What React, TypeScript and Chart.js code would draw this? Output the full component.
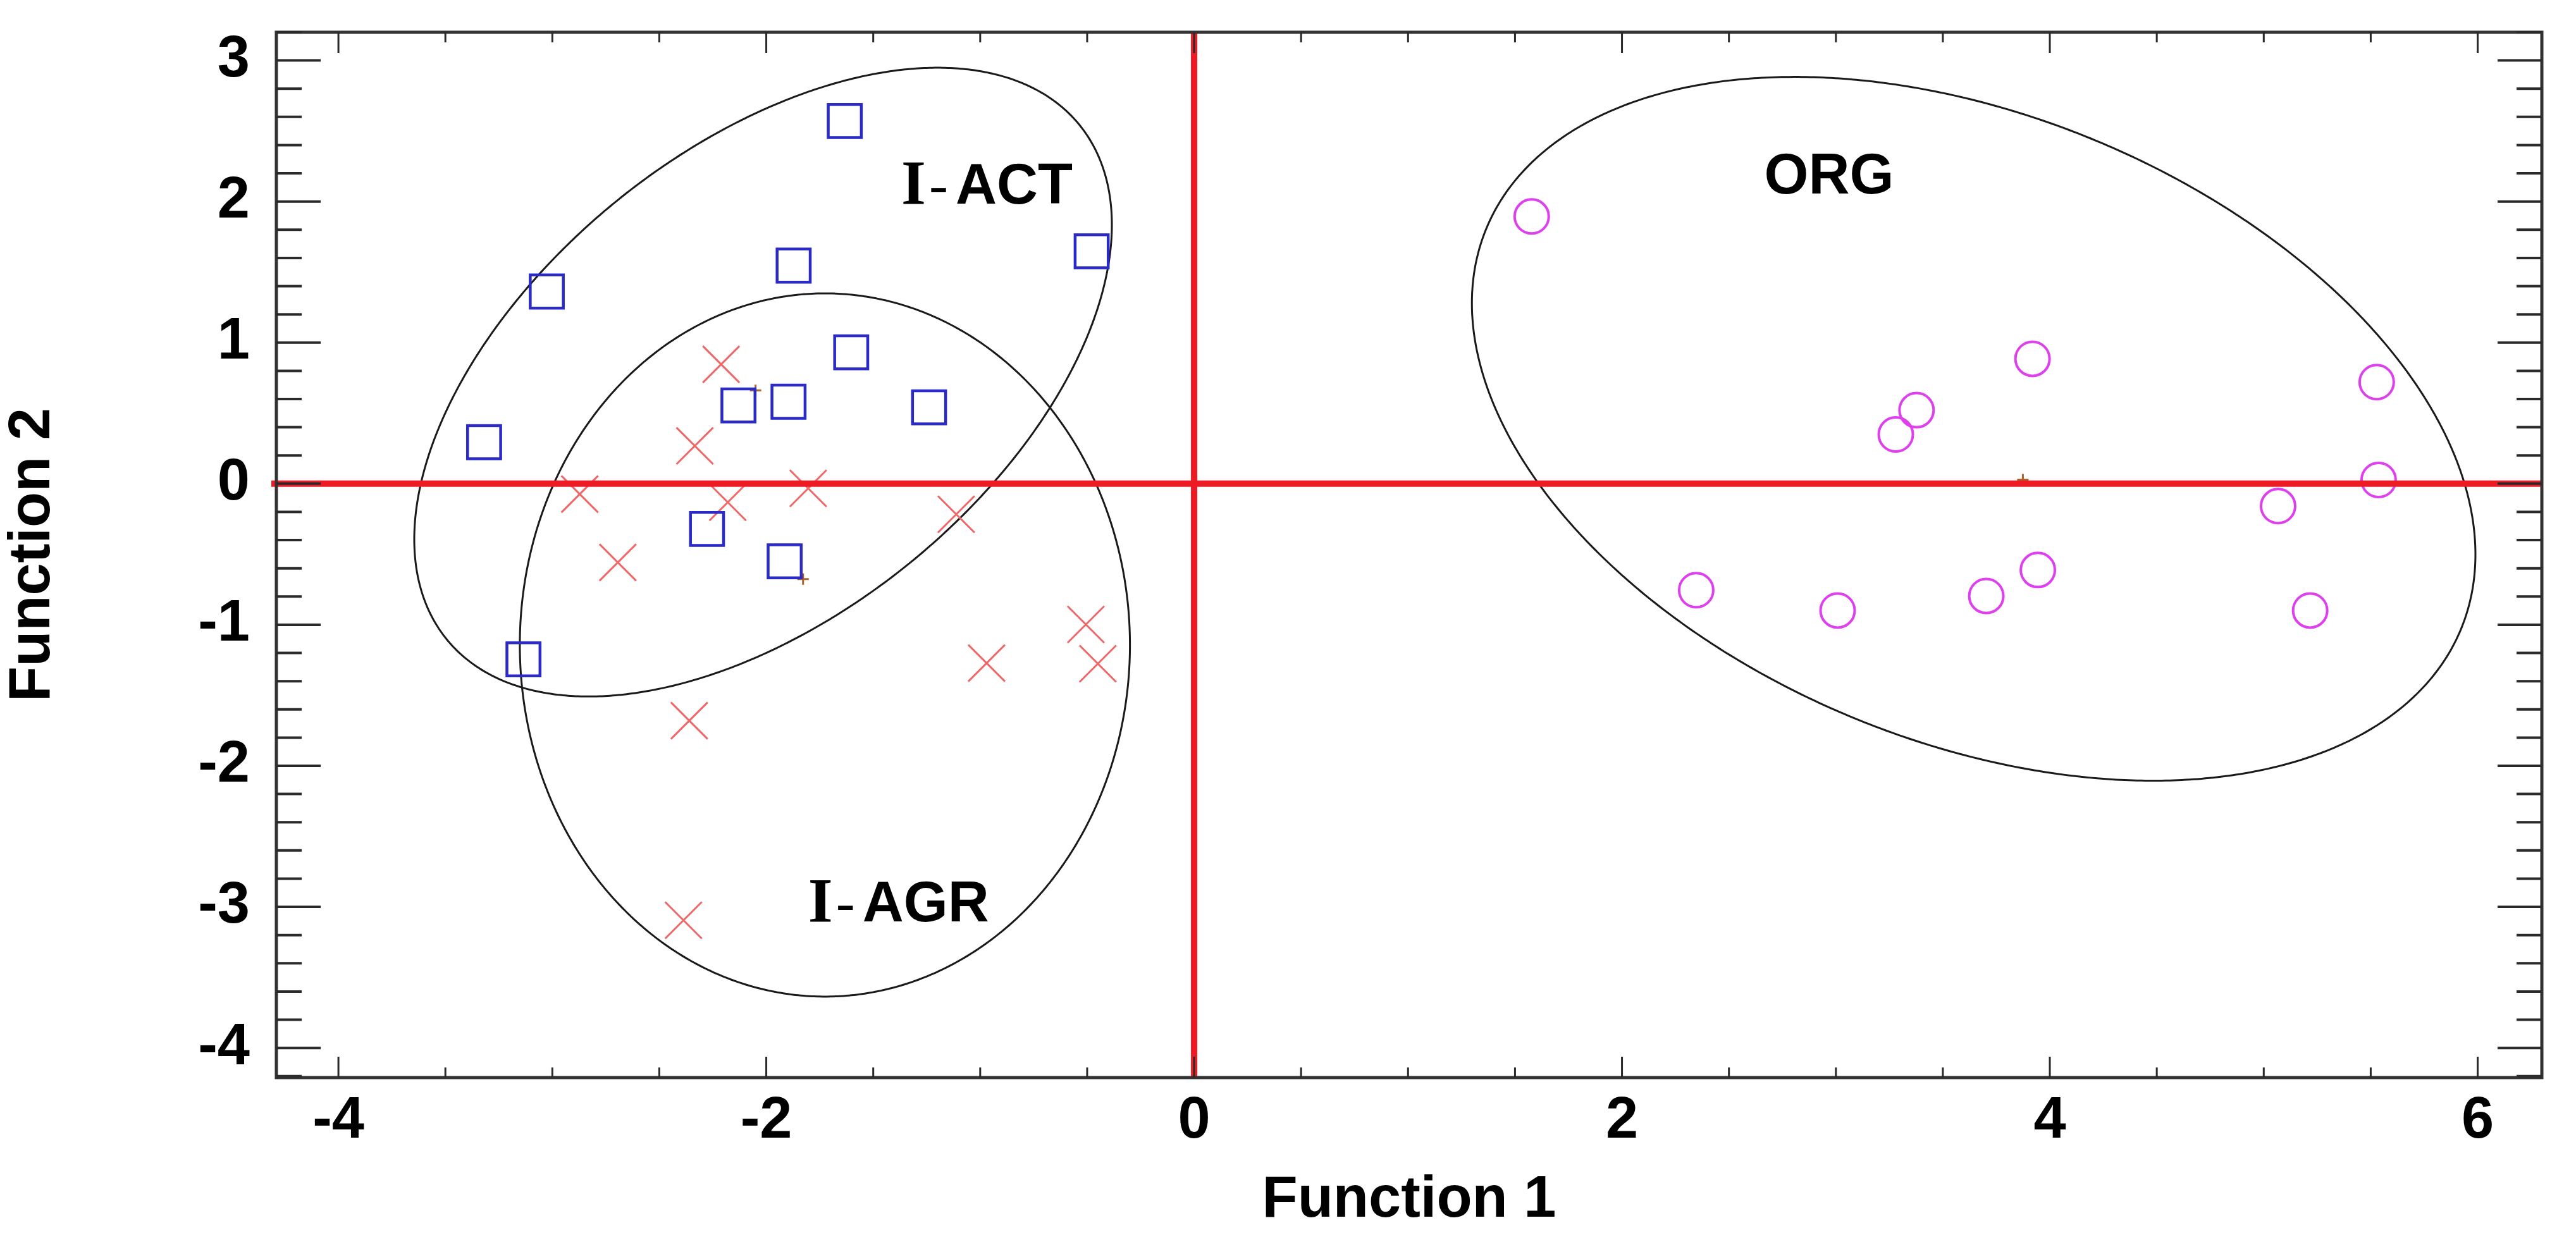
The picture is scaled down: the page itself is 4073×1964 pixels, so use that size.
import React, { useEffect, useRef } from 'react';
import { Chart, registerables } from 'chart.js';

Chart.register(...registerables);

// ---- axis ranges / ticks ----
const X_MIN = -4.29;
const X_MAX = 6.3;
const Y_MIN = -4.21;
const Y_MAX = 3.2;
const X_LABEL_STEP = 2;
const X_MINOR_STEP = 0.5;
const Y_LABEL_STEP = 1;
const Y_MINOR_STEP = 0.2;

const X_TITLE = 'Function 1';
const Y_TITLE = 'Function 2';

// ---- groups ----
const GROUP_NAMES = ['I-ACT', 'I-AGR', 'ORG'];

// I-ACT (blue squares)
const ACT_X = [-1.633, -0.479, -1.872, -3.026, -1.603, -2.13, -1.896, -1.239, -3.319, -2.277, -1.914, -3.135];
const ACT_Y = [2.571, 1.647, 1.546, 1.362, 0.931, 0.555, 0.581, 0.541, 0.294, -0.321, -0.55, -1.245];

// I-AGR (red crosses)
const AGR_X = [-2.211, -2.334, -2.872, -2.18, -1.804, -1.112, -2.694, -0.506, -0.97, -0.45, -2.36, -2.387];
const AGR_Y = [0.846, 0.268, -0.074, -0.132, -0.033, -0.217, -0.558, -0.998, -1.272, -1.276, -1.68, -3.095];

// ORG (magenta circles)
const ORG_X = [1.578, 3.919, 3.377, 3.28, 5.528, 5.537, 5.067, 2.347, 3.008, 3.703, 3.944, 5.217];
const ORG_Y = [1.894, 0.885, 0.521, 0.349, 0.72, 0.026, -0.159, -0.755, -0.899, -0.796, -0.612, -0.899];

// group centroids (small plus marks)
const CENTROID_X = [-2.05, -1.828, 3.874];
const CENTROID_Y = [0.662, -0.677, 0.028];

// confidence ellipses: centre, half extents, correlation
const ELLIPSE_CX = [-2.015, -1.726, 3.644];
const ELLIPSE_CY = [0.72, -1.1435, 0.389];
const ELLIPSE_SX = [1.6305, 1.426, 2.3455];
const ELLIPSE_SY = [2.2285, 2.4925, 2.4945];
const ELLIPSE_RHO = [0.5, 0.0, -0.357];

// group name anchors (left, baseline)
const LABEL_X = [-1.369, -1.804, 2.677];
const LABEL_Y = [1.986, -3.102, 2.057];

const SANS = '"Liberation Sans", Arial, Helvetica, sans-serif';
const SERIF = '"Liberation Serif", "Times New Roman", serif';

function pts(xs: number[], ys: number[]) {
  return xs.map((x, i) => ({ x, y: ys[i] }));
}

function stepValues(min: number, max: number, step: number) {
  const out: number[] = [];
  const start = Math.ceil(min / step - 1e-9);
  const end = Math.floor(max / step + 1e-9);
  for (let k = start; k <= end; k++) out.push(+(k * step).toFixed(6));
  return out;
}

const decorPlugin = {
  id: 'decor',
  beforeDatasetsDraw(chart: any) {
    const { ctx, chartArea: ca } = chart;
    const xs = chart.scales.x;
    const ys = chart.scales.y;
    ctx.save();
    ctx.beginPath();
    ctx.rect(ca.left, ca.top, ca.right - ca.left, ca.bottom - ca.top);
    ctx.clip();
    ctx.strokeStyle = '#1a1a1a';
    ctx.lineWidth = 3;
    for (let g = 0; g < ELLIPSE_CX.length; g++) {
      const cx = ELLIPSE_CX[g], cy = ELLIPSE_CY[g];
      const sx = ELLIPSE_SX[g], sy = ELLIPSE_SY[g], r = ELLIPSE_RHO[g];
      const q = Math.sqrt(1 - r * r);
      ctx.beginPath();
      const N = 720;
      for (let i = 0; i <= N; i++) {
        const t = (i / N) * Math.PI * 2;
        const vx = cx + sx * Math.cos(t);
        const vy = cy + sy * (r * Math.cos(t) + q * Math.sin(t));
        const px = xs.getPixelForValue(vx);
        const py = ys.getPixelForValue(vy);
        if (i === 0) ctx.moveTo(px, py);
        else ctx.lineTo(px, py);
      }
      ctx.closePath();
      ctx.stroke();
    }
    ctx.restore();
  },
  afterDatasetsDraw(chart: any) {
    const { ctx, chartArea: ca } = chart;
    const xs = chart.scales.x;
    const ys = chart.scales.y;
    ctx.save();

    // red zero lines
    ctx.strokeStyle = '#ed1c24';
    ctx.lineWidth = 10;
    const x0 = xs.getPixelForValue(0);
    const y0 = ys.getPixelForValue(0);
    ctx.beginPath();
    ctx.moveTo(x0, ca.top);
    ctx.lineTo(x0, ca.bottom);
    ctx.moveTo(ca.left - 8, y0);
    ctx.lineTo(ca.right, y0);
    ctx.stroke();

    // frame
    ctx.strokeStyle = '#333333';
    ctx.lineWidth = 5;
    ctx.strokeRect(ca.left, ca.top, ca.right - ca.left, ca.bottom - ca.top);

    // y ticks (left and right, inward)
    ctx.lineWidth = 4;
    ctx.strokeStyle = '#2a2a2a';
    for (const v of stepValues(Y_MIN, Y_MAX, Y_MINOR_STEP)) {
      const major = Math.abs(v / Y_LABEL_STEP - Math.round(v / Y_LABEL_STEP)) < 1e-6;
      const len = major ? 70 : 40;
      const py = ys.getPixelForValue(v);
      ctx.beginPath();
      ctx.moveTo(ca.left, py);
      ctx.lineTo(ca.left + len, py);
      ctx.moveTo(ca.right, py);
      ctx.lineTo(ca.right - len, py);
      ctx.stroke();
    }
    // x ticks (bottom and top, inward)
    ctx.lineWidth = 3;
    for (const v of stepValues(X_MIN, X_MAX, X_MINOR_STEP)) {
      const major = Math.abs(v / X_LABEL_STEP - Math.round(v / X_LABEL_STEP)) < 1e-6;
      const len = major ? 33 : 16;
      const px = xs.getPixelForValue(v);
      ctx.beginPath();
      ctx.moveTo(px, ca.bottom);
      ctx.lineTo(px, ca.bottom - len);
      ctx.moveTo(px, ca.top);
      ctx.lineTo(px, ca.top + len);
      ctx.stroke();
    }

    // group names
    ctx.fillStyle = '#000';
    ctx.textBaseline = 'alphabetic';
    ctx.textAlign = 'left';
    for (let g = 0; g < GROUP_NAMES.length; g++) {
      const name = GROUP_NAMES[g];
      const px = xs.getPixelForValue(LABEL_X[g]);
      const py = ys.getPixelForValue(LABEL_Y[g]);
      if (name.startsWith('I-')) {
        ctx.font = `bold 100px ${SERIF}`;
        ctx.fillText('I', px, py);
        ctx.font = `90px ${SERIF}`;
        ctx.fillText('-', px + 44, py);
        ctx.font = `bold 90px ${SANS}`;
        ctx.fillText(name.slice(2), px + 86, py);
      } else {
        ctx.font = `bold 90px ${SANS}`;
        ctx.fillText(name, px - 4, py);
      }
    }
    ctx.restore();
  },
};

export default function App() {
  const ref = useRef<HTMLCanvasElement | null>(null);

  useEffect(() => {
    document.body.style.margin = '0';
    const canvas = ref.current;
    if (!canvas) return;
    const tickFont = { family: SANS, size: 92, weight: 'bold' as const };
    const chart = new Chart(canvas, {
      type: 'scatter',
      data: {
        datasets: [
          {
            label: GROUP_NAMES[0],
            data: pts(ACT_X, ACT_Y),
            pointStyle: 'rect',
            pointRadius: 37,
            pointBorderWidth: 4.5,
            pointBorderColor: '#2a2ac6',
            pointBackgroundColor: 'rgba(0,0,0,0)',
          },
          {
            label: GROUP_NAMES[1],
            data: pts(AGR_X, AGR_Y),
            pointStyle: 'crossRot',
            pointRadius: 41,
            pointBorderWidth: 3,
            pointBorderColor: '#f06767',
            pointBackgroundColor: 'rgba(0,0,0,0)',
          },
          {
            label: GROUP_NAMES[2],
            data: pts(ORG_X, ORG_Y),
            pointStyle: 'circle',
            pointRadius: 27,
            pointBorderWidth: 4,
            pointBorderColor: '#df40ee',
            pointBackgroundColor: 'rgba(0,0,0,0)',
          },
          {
            label: 'Centroids',
            data: pts(CENTROID_X, CENTROID_Y),
            pointStyle: 'cross',
            pointRadius: 9,
            pointBorderWidth: 3,
            pointBorderColor: '#a8632e',
            pointBackgroundColor: 'rgba(0,0,0,0)',
          },
        ],
      },
      options: {
        responsive: false,
        animation: false,
        events: [],
        layout: { padding: { top: 51, right: 54, left: 0, bottom: 0 } },
        plugins: {
          legend: { display: false },
          tooltip: { enabled: false },
        },
        scales: {
          x: {
            type: 'linear',
            min: X_MIN,
            max: X_MAX,
            grid: { display: false, drawTicks: false },
            border: { display: false },
            ticks: {
              stepSize: X_LABEL_STEP,
              includeBounds: false,
              padding: 14,
              color: '#000',
              font: tickFont,
            },
            title: {
              display: true,
              text: X_TITLE,
              color: '#000',
              font: { family: SANS, size: 92, weight: 'bold', lineHeight: 1 },
              padding: { top: 0, bottom: 19 },
            },
            afterFit: (s: any) => {
              s.height = 260;
              s.paddingLeft = 0;
              s.paddingRight = 0;
            },
          },
          y: {
            type: 'linear',
            min: Y_MIN,
            max: Y_MAX,
            grid: { display: false, drawTicks: false },
            border: { display: false },
            ticks: {
              stepSize: Y_LABEL_STEP,
              includeBounds: false,
              padding: 42,
              color: '#000',
              font: tickFont,
            },
            title: {
              display: true,
              text: Y_TITLE,
              color: '#000',
              font: { family: SANS, size: 92, weight: 'bold', lineHeight: 1 },
              padding: { top: 7, bottom: 0 },
            },
            afterFit: (s: any) => {
              s.width = 437;
              s.paddingTop = 0;
              s.paddingBottom = 0;
            },
          },
        },
      },
      plugins: [decorPlugin],
    } as any);
    return () => chart.destroy();
  }, []);

  return (
    <div style={{ width: 4073, height: 1964, background: '#fff' }}>
      <canvas ref={ref} width={4073} height={1964} style={{ display: 'block', width: 4073, height: 1964 }} />
    </div>
  );
}
